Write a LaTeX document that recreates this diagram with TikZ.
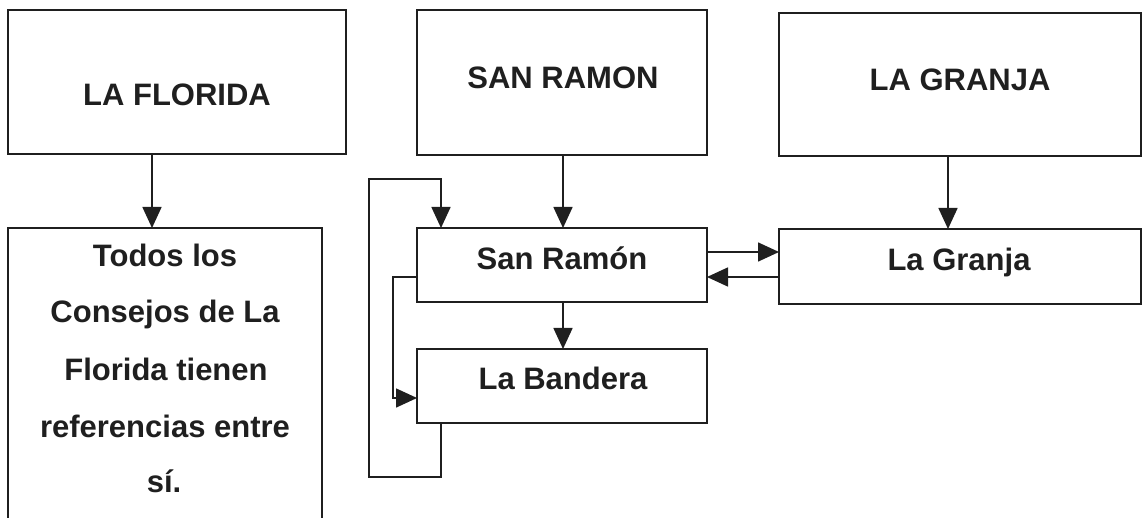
\documentclass[tikz,border=0pt]{standalone}
\usepackage{fontspec}
\setmainfont{Liberation Sans}
\usetikzlibrary{arrows.meta}
\begin{document}
\begin{tikzpicture}[x=1pt,y=-1pt,
  box/.style={draw=black!88, line width=1.7pt, rectangle, inner sep=0pt, outer sep=0pt, anchor=north west},
  lbl/.style={anchor=base, inner sep=0pt, text=black!88, font=\fontsize{31}{37}\selectfont\bfseries},
  arr/.style={draw=black!88, line width=1.6pt, -{Triangle[length=21pt,width=19pt]}},
  conn/.style={draw=black!88, line width=1.6pt}]
\useasboundingbox (0,0) rectangle (1145,518);
% boxes
\node[box, minimum width=338pt, minimum height=144pt] (flo) at (8,10) {};
\node[box, minimum width=314pt, minimum height=310pt] (todos) at (8,228) {};
\node[box, minimum width=290pt, minimum height=145pt] (sr) at (417,10) {};
\node[box, minimum width=362pt, minimum height=143pt] (lg) at (779,13) {};
\node[box, minimum width=290pt, minimum height=74pt] (sr2) at (417,228) {};
\node[box, minimum width=362pt, minimum height=75pt] (lg2) at (779,229) {};
\node[box, minimum width=290pt, minimum height=74pt] (lb) at (417,349) {};
% texts
\node[lbl] (tflo) at (177,106) {LA FLORIDA};
\node[lbl] (tsr) at (563,89) {SAN RAMON};
\node[lbl] (tlg) at (960,91) {LA GRANJA};
\node[lbl] (tsr2) at (562,270) {San Ramón};
\node[lbl] (tlg2) at (959,271) {La Granja};
\node[lbl] (tlb) at (563,389) {La Bandera};
\node[lbl] (td1) at (165,267) {Todos los};
\node[lbl] (td2) at (165,323) {Consejos de La};
\node[lbl] (td3) at (166,380) {Florida tienen};
\node[lbl] (td4) at (165,437) {referencias entre};
\node[lbl] (td5) at (164,492) {sí.};
% connectors
\draw[arr] ([xshift=144pt]flo.south west) -- ([xshift=144pt]todos.north west);
\draw[arr] ([xshift=146pt]sr.south west) -- ([xshift=146pt]sr2.north west);
\draw[arr] ([xshift=169pt]lg.south west) -- ([xshift=169pt]lg2.north west);
\draw[arr] ([yshift=-24pt]sr2.north east) -- ([yshift=-23pt]lg2.north west);
\draw[arr] ([yshift=-48pt]lg2.north west) -- ([yshift=-49pt]sr2.north east);
\draw[arr] ([xshift=146pt]sr2.south west) -- ([xshift=146pt]lb.north west);
\coordinate (lo1) at (369,477);
\coordinate (lo2) at (369,179);
\draw[arr] ([xshift=24pt]lb.south west) |- (lo1) -- (lo2) -| ([xshift=24pt]sr2.north west);
\coordinate (li) at (393,277);
\draw[arr] ([yshift=-49pt]sr2.north west) -- (li) |- ([yshift=-49pt]lb.north west);
\end{tikzpicture}
\end{document}
